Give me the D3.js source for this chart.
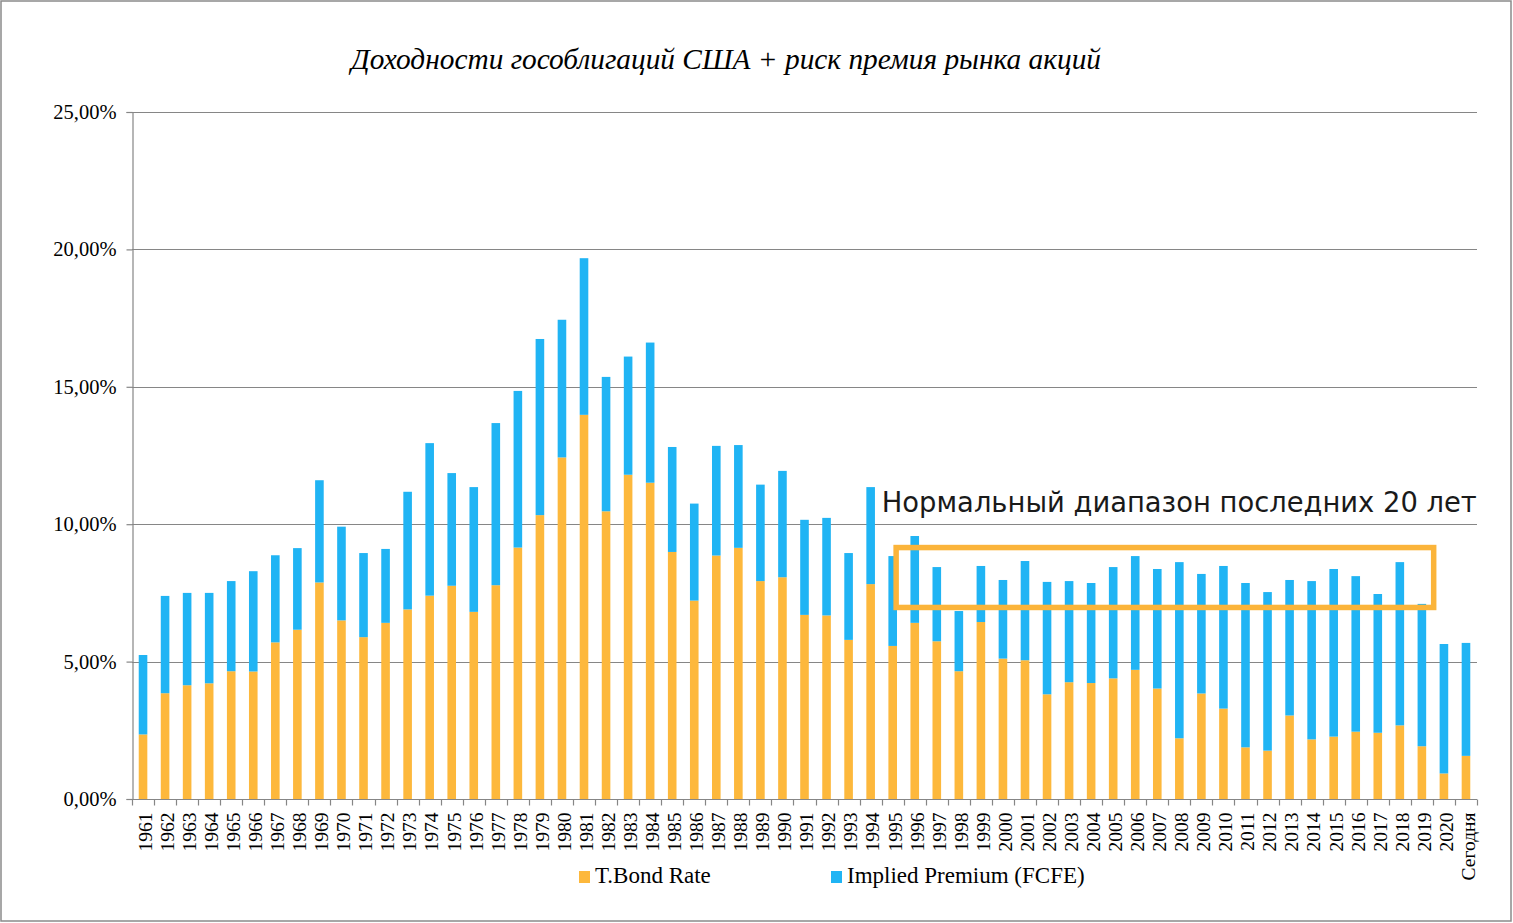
<!DOCTYPE html>
<html>
<head>
<meta charset="utf-8">
<script src="https://cdn.jsdelivr.net/npm/d3@7"></script>
<style>
  html, body { margin: 0; padding: 0; background: #fff; }
  svg { display: block; }
</style>
</head>
<body>
<svg id="chart" width="1513" height="923"></svg>
<script>
// categories
var years = ['1961','1962','1963','1964','1965','1966','1967','1968','1969','1970',
  '1971','1972','1973','1974','1975','1976','1977','1978','1979','1980',
  '1981','1982','1983','1984','1985','1986','1987','1988','1989','1990',
  '1991','1992','1993','1994','1995','1996','1997','1998','1999','2000',
  '2001','2002','2003','2004','2005','2006','2007','2008','2009','2010',
  '2011','2012','2013','2014','2015','2016','2017','2018','2019','2020','Сегодня'];

// T.Bond Rate, %
var tbondRate = [2.35,3.85,4.14,4.21,4.65,4.64,5.70,6.16,7.88,6.50,
  5.89,6.41,6.90,7.40,7.76,6.81,7.78,9.15,10.33,12.43,
  13.98,10.47,11.80,11.51,8.99,7.22,8.86,9.14,7.93,8.07,
  6.70,6.68,5.79,7.82,5.57,6.41,5.74,4.65,6.44,5.11,
  5.05,3.81,4.25,4.22,4.39,4.70,4.02,2.21,3.84,3.29,
  1.88,1.76,3.04,2.17,2.27,2.45,2.41,2.68,1.92,0.93,1.57];

// Implied Premium (FCFE), %
var impliedPremium = [2.89,3.54,3.36,3.29,3.28,3.65,3.17,2.97,3.72,3.41,
  3.06,2.69,4.28,5.55,4.10,4.54,5.90,5.70,6.41,5.01,
  5.70,4.89,4.30,5.10,3.82,3.53,3.99,3.74,3.51,3.87,
  3.46,3.55,3.16,3.53,3.27,3.16,2.70,2.19,2.04,2.86,
  3.61,4.09,3.68,3.64,4.05,4.14,4.35,6.41,4.35,5.19,
  5.98,5.77,4.93,5.76,6.10,5.66,5.05,5.94,5.18,4.71,4.11];

var yTicks = [0, 5, 10, 15, 20, 25];

var seriesNames = ['T.Bond Rate', 'Implied Premium (FCFE)'];
var seriesColors = ['#FDB83C', '#20B4F4'];

// "normal range" box, in data terms
var rangeLow = 6.97, rangeHigh = 9.15;
var rangeFrom = '1995', rangeTo = '2019';

var svg = d3.select('#chart');
var W = 1513, H = 923;
var margin = { left: 132, right: 36, top: 112, bottom: 124 };

var axisColor = '#868686';

svg.append('rect')
  .attr('x', 1).attr('y', 1)
  .attr('width', W - 3).attr('height', H - 3)
  .attr('fill', '#fff')
  .attr('stroke', '#8a8a8a')
  .attr('stroke-width', 1.5);

var x = d3.scaleBand()
  .domain(years)
  .range([margin.left, W - margin.right])
  .paddingInner(0.61)
  .paddingOuter(0.305);

var y = d3.scaleLinear()
  .domain([0, 25])
  .range([H - margin.bottom, margin.top]);

var step = x.step();

// gridlines
svg.append('g')
  .selectAll('line')
  .data(yTicks.filter(function (d) { return d > 0; }))
  .enter()
  .append('line')
  .attr('x1', margin.left)
  .attr('x2', W - margin.right)
  .attr('y1', function (d) { return Math.round(y(d)) + 0.5; })
  .attr('y2', function (d) { return Math.round(y(d)) + 0.5; })
  .attr('stroke', axisColor)
  .attr('stroke-width', 1.2);

// stacked bars
var rows = years.map(function (yr, i) {
  return { year: yr, bond: tbondRate[i], prem: impliedPremium[i] };
});
var stack = d3.stack().keys(['bond', 'prem'])(rows);

svg.append('g')
  .selectAll('g')
  .data(stack)
  .enter()
  .append('g')
  .attr('fill', function (d, i) { return seriesColors[i]; })
  .selectAll('rect')
  .data(function (d) { return d; })
  .enter()
  .append('rect')
  .attr('x', function (d) { return x(d.data.year); })
  .attr('width', x.bandwidth())
  .attr('y', function (d) { return y(d[1]); })
  .attr('height', function (d) { return y(d[0]) - y(d[1]); });

// y axis
var yAxis = d3.axisLeft(y)
  .tickValues(yTicks)
  .tickSize(6)
  .tickPadding(10)
  .tickFormat(function (d) { return d3.format('.2f')(d).replace('.', ',') + '%'; });

var yG = svg.append('g')
  .attr('transform', 'translate(' + (margin.left + 0.5) + ',0)')
  .call(yAxis);
yG.select('.domain').attr('stroke', axisColor).attr('stroke-width', 1.2);
yG.selectAll('.tick line').attr('stroke', axisColor).attr('stroke-width', 1.2);
yG.selectAll('text')
  .attr('fill', '#000')
  .style('font-family', '"Liberation Serif", "Times New Roman", serif')
  .style('font-size', '20.5px');

// x axis: ticks on category boundaries
var xBase = Math.round(y(0)) + 0.5;
svg.append('line')
  .attr('x1', margin.left).attr('x2', W - margin.right)
  .attr('y1', xBase).attr('y2', xBase)
  .attr('stroke', axisColor).attr('stroke-width', 1.2);

var boundaries = d3.range(years.length + 1);
svg.append('g')
  .selectAll('line')
  .data(boundaries)
  .enter()
  .append('line')
  .attr('x1', function (i) { return Math.round(margin.left + i * step) + 0.5; })
  .attr('x2', function (i) { return Math.round(margin.left + i * step) + 0.5; })
  .attr('y1', xBase)
  .attr('y2', xBase + 6)
  .attr('stroke', axisColor)
  .attr('stroke-width', 1.2);

svg.append('g')
  .selectAll('text')
  .data(years)
  .enter()
  .append('text')
  .attr('transform', function (d) {
    return 'translate(' + (x(d) + x.bandwidth() / 2 + 2) + ',' + (xBase + 13) + ') rotate(-90)';
  })
  .attr('dy', '0.35em')
  .attr('text-anchor', 'end')
  .style('font-family', '"Liberation Serif", "Times New Roman", serif')
  .style('font-size', '19.5px')
  .attr('fill', '#000')
  .text(function (d) { return d; });

// title
svg.append('text')
  .attr('x', 351)
  .attr('y', 69)
  .attr('textLength', 750)
  .attr('lengthAdjust', 'spacingAndGlyphs')
  .style('font-family', '"Liberation Serif", "Times New Roman", serif')
  .style('font-style', 'italic')
  .style('font-size', '29px')
  .attr('fill', '#000')
  .text('Доходности гособлигаций США + риск премия рынка акций');

// normal range box + label
var boxLeft = x(rangeFrom) + x.bandwidth() * 0.9;
var boxRight = x(rangeTo) + step * 0.73;
svg.append('rect')
  .attr('x', boxLeft)
  .attr('y', y(rangeHigh))
  .attr('width', boxRight - boxLeft)
  .attr('height', y(rangeLow) - y(rangeHigh))
  .attr('fill', 'none')
  .attr('stroke', '#FBB43A')
  .attr('stroke-width', 5.5);

svg.append('text')
  .attr('x', x(rangeFrom) - step * 0.3)
  .attr('y', y(10.45))
  .attr('textLength', 595)
  .attr('lengthAdjust', 'spacingAndGlyphs')
  .style('font-family', '"DejaVu Sans", sans-serif')
  .style('font-size', '28px')
  .attr('fill', '#1a1a1a')
  .text('Нормальный диапазон последних 20 лет');

// legend
var legendX = [579, 831];
var legend = svg.append('g')
  .selectAll('g')
  .data(seriesNames)
  .enter()
  .append('g')
  .attr('transform', function (d, i) { return 'translate(' + legendX[i] + ',871)'; });

legend.append('rect')
  .attr('width', 11)
  .attr('height', 12)
  .attr('fill', function (d, i) { return seriesColors[i]; });

legend.append('text')
  .attr('x', 16)
  .attr('y', 12)
  .style('font-family', '"Liberation Serif", "Times New Roman", serif')
  .style('font-size', '23px')
  .attr('fill', '#000')
  .text(function (d) { return d; });
</script>
</body>
</html>
